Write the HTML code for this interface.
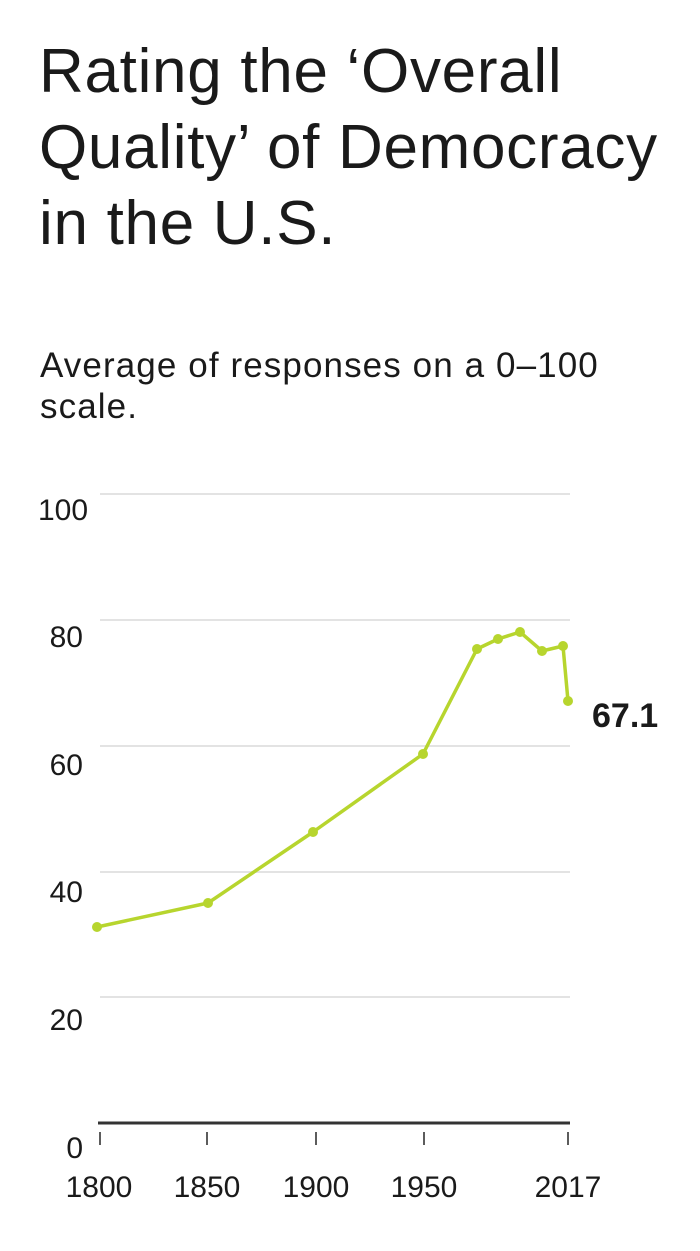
<!DOCTYPE html>
<html>
<head>
<meta charset="utf-8">
<style>
  html, body { margin: 0; padding: 0; background: #fff; }
  body { width: 700px; height: 1251px; overflow: hidden; }
  svg { display: block; }
  text { font-family: "Liberation Sans", "DejaVu Sans", sans-serif; fill: #1a1a1a; }
</style>
</head>
<body>
<svg width="700" height="1251" viewBox="0 0 700 1251" xmlns="http://www.w3.org/2000/svg">
  <rect width="700" height="1251" fill="#fff"/>
  <!-- Title -->
  <text x="39" y="92" font-size="62" letter-spacing="0.7">Rating the ‘Overall</text>
  <text x="39" y="168" font-size="62" letter-spacing="0.7">Quality’ of Democracy</text>
  <text x="39" y="244" font-size="62" letter-spacing="0.7">in the U.S.</text>

  <!-- Subtitle -->
  <text x="40" y="377" font-size="35" letter-spacing="1.1">Average of responses on a 0–100</text>
  <text x="40" y="418" font-size="35" letter-spacing="1.1">scale.</text>

  <!-- Gridlines -->
  <g stroke="#e3e3e3" stroke-width="2">
    <line x1="100" y1="494" x2="570" y2="494"/>
    <line x1="100" y1="620" x2="570" y2="620"/>
    <line x1="100" y1="746" x2="570" y2="746"/>
    <line x1="100" y1="872" x2="570" y2="872"/>
    <line x1="100" y1="997" x2="570" y2="997"/>
  </g>
  <!-- Baseline -->
  <line x1="98" y1="1123" x2="570" y2="1123" stroke="#333" stroke-width="3"/>
  <!-- Ticks -->
  <g stroke="#333" stroke-width="1.6">
    <line x1="100" y1="1132" x2="100" y2="1145"/>
    <line x1="207" y1="1132" x2="207" y2="1145"/>
    <line x1="316" y1="1132" x2="316" y2="1145"/>
    <line x1="424" y1="1132" x2="424" y2="1145"/>
    <line x1="568" y1="1132" x2="568" y2="1145"/>
  </g>

  <!-- Y labels -->
  <g font-size="30">
    <text x="38" y="520">100</text>
    <text x="83" y="647" text-anchor="end">80</text>
    <text x="83" y="775" text-anchor="end">60</text>
    <text x="83" y="902" text-anchor="end">40</text>
    <text x="83" y="1030" text-anchor="end">20</text>
    <text x="83" y="1158" text-anchor="end">0</text>
  </g>

  <!-- X labels -->
  <g font-size="30" text-anchor="middle">
    <text x="99" y="1197">1800</text>
    <text x="207" y="1197">1850</text>
    <text x="316" y="1197">1900</text>
    <text x="424" y="1197">1950</text>
    <text x="568" y="1197">2017</text>
  </g>

  <!-- Series -->
  <polyline fill="none" stroke="#b7d52e" stroke-width="3.5" stroke-linejoin="round"
    points="97,927 208,903 313,832 423,754 477,649 498,639 520,632 542,651 563,646 568,701"/>
  <g fill="#b7d52e">
    <circle cx="97" cy="927" r="5"/>
    <circle cx="208" cy="903" r="5"/>
    <circle cx="313" cy="832" r="5"/>
    <circle cx="423" cy="754" r="5"/>
    <circle cx="477" cy="649" r="5"/>
    <circle cx="498" cy="639" r="5"/>
    <circle cx="520" cy="632" r="5"/>
    <circle cx="542" cy="651" r="5"/>
    <circle cx="563" cy="646" r="5"/>
    <circle cx="568" cy="701" r="5"/>
  </g>

  <!-- End label -->
  <text x="592" y="727" font-size="34" font-weight="bold" fill="#111">67.1</text>
</svg>
</body>
</html>
